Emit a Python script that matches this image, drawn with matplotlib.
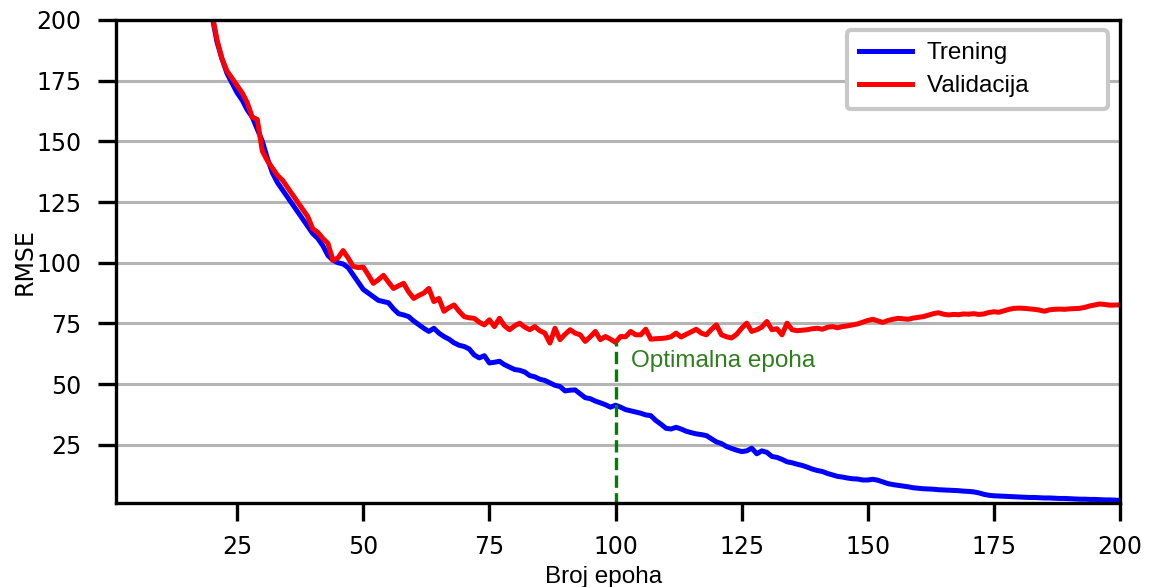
import numpy as np
import matplotlib.pyplot as plt

# epohe 18..200 (pre 18 su vrijednosti izvan grafa)
epohe = np.arange(18, 201)

trening = [
    225, 213, 202, 191, 184, 178, 174, 170, 167, 163,
    160, 155, 150, 143, 137, 133, 130, 127, 124, 121,
    118, 115, 112, 110, 107, 103, 101, 100, 99.5, 98,
    95, 92, 89, 87.5, 86, 84.5, 84, 83.5, 81, 79,
    78.5, 77.8, 76, 74.5, 73, 71.7, 73, 71, 69.6, 68.5,
    67, 66, 65.5, 64.5, 62, 60.8, 61.7, 58.7, 59, 59.4,
    58, 57, 56, 55.7, 55, 53.5, 53, 52, 51.5, 50.5,
    49.5, 49, 47.2, 47.5, 47.6, 46, 44.4, 44, 43, 42.3,
    41.5, 40.5, 41.3, 40.5, 39.5, 39, 38.5, 38, 37.3, 37,
    35, 33.5, 31.8, 31.5, 32.2, 31.5, 30.6, 30, 29.5, 29.2,
    28.8, 27.5, 26.2, 25.5, 24.3, 23.5, 22.8, 22.2, 22.5, 23.6,
    21.3, 22.5, 21.9, 20.2, 19.8, 19, 18, 17.6, 17, 16.5,
    15.8, 15, 14.4, 14, 13.2, 12.6, 12, 11.7, 11.3, 11,
    10.9, 10.5, 10.5, 10.8, 10.4, 9.7, 9, 8.6, 8.3, 8,
    7.7, 7.3, 7.1, 6.9, 6.8, 6.7, 6.5, 6.4, 6.3, 6.2,
    6.1, 5.9, 5.8, 5.6, 5.2, 4.6, 4.2, 4.0, 3.9, 3.8,
    3.7, 3.6, 3.5, 3.4, 3.3, 3.3, 3.2, 3.1, 3.1, 3.0,
    2.9, 2.9, 2.8, 2.7, 2.6, 2.6, 2.5, 2.5, 2.4, 2.3,
    2.3, 2.2, 2.1,
]

validacija = [
    225, 214, 203, 192, 184, 179, 176, 173, 170, 166,
    160, 159, 146, 142, 139, 136, 134, 131, 128, 125,
    122, 119, 114, 112.5, 110, 108, 101, 102, 105, 102,
    98.5, 98, 98.2, 95, 91.5, 93, 94.8, 92, 89.4, 90.5,
    91.5, 88, 85.3, 86.5, 87.5, 89.4, 84, 85.3, 80, 81.5,
    82.6, 80, 77.8, 77.3, 77.1, 75.5, 74.4, 76.5, 73.7, 77.1,
    74, 72.4, 74, 75.1, 73.5, 72.4, 73.7, 72, 71, 66.9,
    73, 68.3, 70.5, 72.4, 71, 70.3, 67.6, 69.5, 71.7, 68.3,
    69.6, 68.5, 67.2, 69.6, 69.5, 71.7, 70.3, 70.3, 72.6, 68.5,
    68.7, 68.8, 69, 69.5, 71, 69.4, 70.5, 71.5, 72.6, 71,
    70.3, 72.5, 74.4, 70.3, 69.5, 69, 70.5, 73, 75.1, 71.7,
    72.4, 73.5, 75.8, 72.4, 72.8, 70.3, 75.1, 72.4, 72, 72.2,
    72.4, 72.8, 73, 72.6, 73.4, 73.7, 73.2, 73.7, 74, 74.4,
    74.8, 75.5, 76.2, 76.7, 76, 75.4, 76.2, 76.7, 77.1, 76.9,
    76.7, 77.2, 77.5, 77.8, 78.4, 79, 79.4, 78.8, 78.5, 78.7,
    78.6, 78.9, 78.8, 79, 78.7, 78.9, 79.5, 79.8, 79.6, 80.2,
    80.8, 81.2, 81.3, 81.2, 81, 80.8, 80.5, 80, 80.6, 80.8,
    80.9, 80.8, 81, 81.1, 81.2, 81.6, 82.2, 82.6, 83, 82.8,
    82.5, 82.6, 82.6,
]

najbolja = 100
x_ticks = [25, 50, 75, 100, 125, 150, 175, 200]
y_ticks = [25, 50, 75, 100, 125, 150, 175, 200]

fig = plt.figure(figsize=(11.51, 5.87), dpi=100)
ax = fig.add_axes([0.1008, 0.143, 0.8723, 0.823])

ax.plot(epohe, trening, color='blue', lw=3.6, label='Trening')
ax.plot(epohe, validacija, color='red', lw=3.6, label='Validacija' + ' ' * 10)

best_val = validacija[list(epohe).index(najbolja)]
ax.vlines(najbolja, 0, best_val, colors='green', linestyles='dashed', lw=2.4)
ax.text(najbolja + 3, 59.5, 'Optimalna epoha', color='#2f7d1f', fontsize=17.5,
        family='Liberation Sans', va='center', ha='left')

ax.set_xlim(1, 200)
ax.set_ylim(1, 200)
ax.set_xticks(x_ticks)
ax.set_yticks(y_ticks)
ax.yaxis.grid(True, color='#b4b4b4', lw=2.2)
ax.set_axisbelow(True)

for s in ax.spines.values():
    s.set_linewidth(2.4)
ax.tick_params(axis='both', length=13, width=2.4, direction='out', labelsize=17)
ax.tick_params(axis='y', pad=12)
ax.tick_params(axis='x', pad=10)

ax.set_xlabel('Broj epoha', fontsize=17.5, family='Liberation Sans')
ax.xaxis.set_label_coords(0.486, -0.13)
ax.set_ylabel('RMSE', fontsize=17, labelpad=0)

leg = ax.legend(loc='upper right', prop={'family': 'Liberation Sans', 'size': 17.5},
                fancybox=True, framealpha=1, borderpad=0.5, handlelength=2.2,
                handletextpad=0.6, labelspacing=0.45, borderaxespad=0,
                bbox_to_anchor=(0.988, 0.979))
leg.get_frame().set_edgecolor('#c8c8c8')
leg.get_frame().set_linewidth(3)
for h in leg.get_lines():
    h.set_linewidth(3.6)

fig.savefig('out.png', dpi=100)
